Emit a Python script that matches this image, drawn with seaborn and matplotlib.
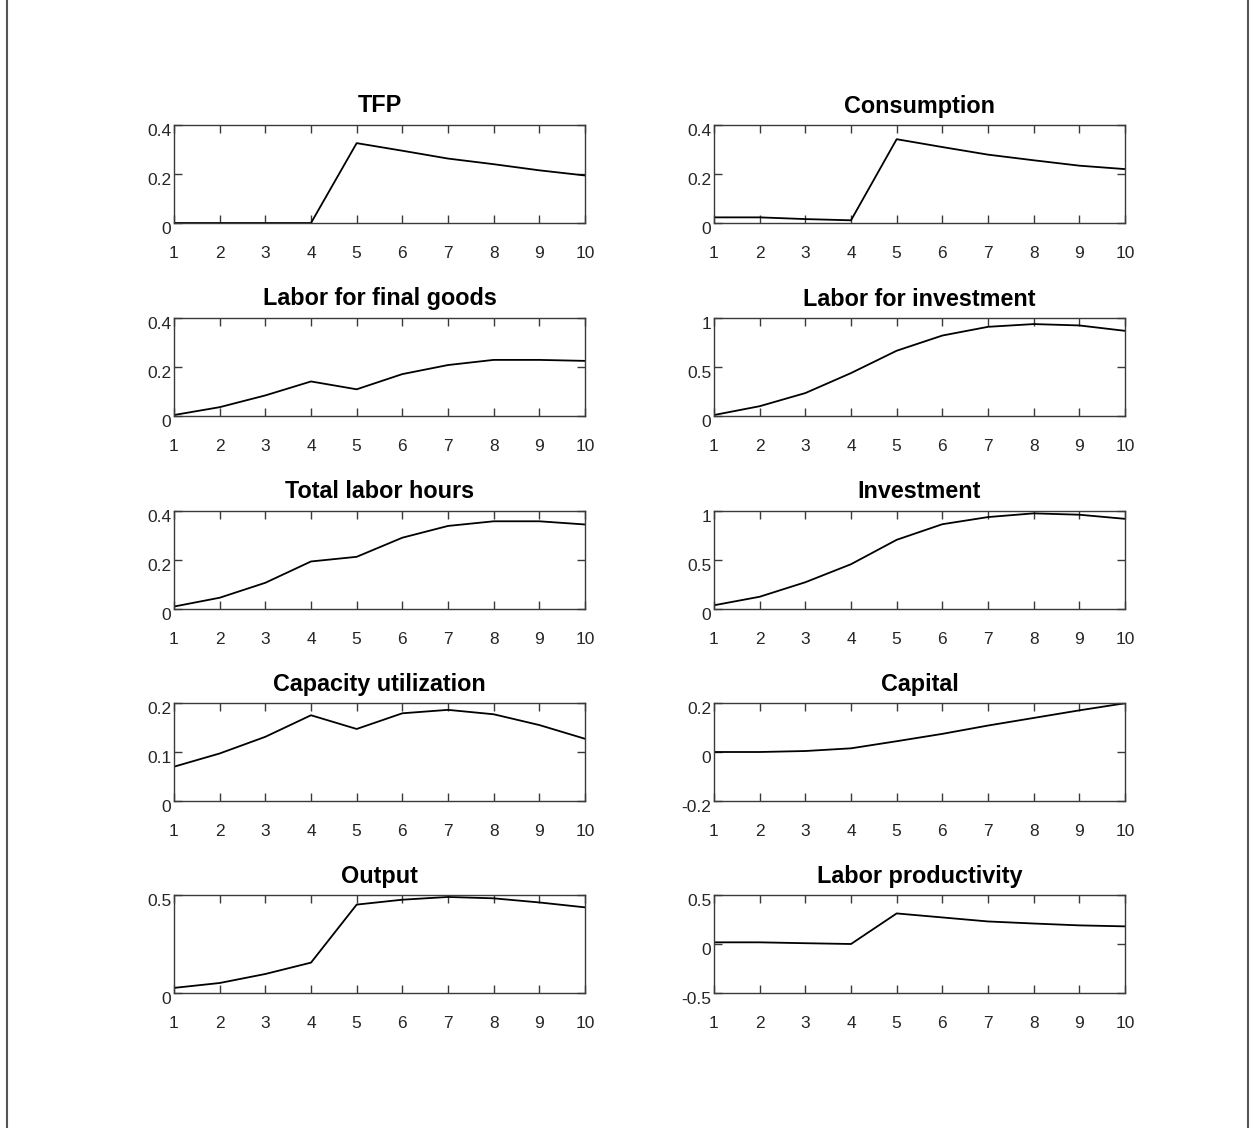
import numpy as np
import pandas as pd
import matplotlib
matplotlib.use("Agg")
import matplotlib.pyplot as plt
from matplotlib.lines import Line2D
from matplotlib.transforms import ScaledTranslation
import seaborn as sns

periods = [1, 2, 3, 4, 5, 6, 7, 8, 9, 10]

tfp = [0.0, 0.0, 0.0, 0.0, 0.326, 0.295, 0.263, 0.240, 0.215, 0.194]
consumption = [0.023, 0.023, 0.016, 0.011, 0.342, 0.310, 0.279, 0.256, 0.234, 0.220]
labor_final = [0.004, 0.036, 0.084, 0.141, 0.109, 0.171, 0.208, 0.229, 0.229, 0.225]
labor_invest = [0.010, 0.100, 0.234, 0.438, 0.666, 0.821, 0.910, 0.938, 0.924, 0.869]
total_hours = [0.010, 0.046, 0.107, 0.194, 0.213, 0.291, 0.339, 0.358, 0.358, 0.345]
investment = [0.038, 0.125, 0.273, 0.457, 0.706, 0.865, 0.938, 0.976, 0.962, 0.920]
capacity = [0.070, 0.097, 0.131, 0.175, 0.147, 0.179, 0.186, 0.177, 0.155, 0.127]
capital = [0.0, 0.0, 0.004, 0.015, 0.044, 0.074, 0.108, 0.139, 0.170, 0.199]
output = [0.026, 0.051, 0.097, 0.155, 0.451, 0.476, 0.490, 0.483, 0.462, 0.437]
productivity = [0.017, 0.017, 0.008, 0.0, 0.312, 0.271, 0.230, 0.209, 0.190, 0.180]

titles = ["TFP", "Consumption", "Labor for final goods", "Labor for investment",
          "Total labor hours", "Investment", "Capacity utilization", "Capital",
          "Output", "Labor productivity"]
series = [tfp, consumption, labor_final, labor_invest, total_hours, investment,
          capacity, capital, output, productivity]
ylims = [(0, 0.4), (0, 0.4), (0, 0.4), (0, 1), (0, 0.4), (0, 1), (0, 0.2),
         (-0.2, 0.2), (0, 0.5), (-0.5, 0.5)]
yticks = [[0, 0.2, 0.4], [0, 0.2, 0.4], [0, 0.2, 0.4], [0, 0.5, 1],
          [0, 0.2, 0.4], [0, 0.5, 1], [0, 0.1, 0.2], [-0.2, 0, 0.2],
          [0, 0.5], [-0.5, 0, 0.5]]
yticklabels = [["0", "0.2", "0.4"], ["0", "0.2", "0.4"], ["0", "0.2", "0.4"],
               ["0", "0.5", "1"], ["0", "0.2", "0.4"], ["0", "0.5", "1"],
               ["0", "0.1", "0.2"], ["-0.2", "0", "0.2"], ["0", "0.5"],
               ["-0.5", "0", "0.5"]]

sns.set_theme(style="white")
plt.rcParams["font.family"] = ["Liberation Sans", "DejaVu Sans"]
gray = "#262626"
plt.rcParams["axes.edgecolor"] = "#3a3a3a"
plt.rcParams["axes.linewidth"] = 1.0

W, H = 1250, 1128
fig = plt.figure(figsize=(W / 100, H / 100), dpi=100)
fig.patch.set_facecolor("white")

col_left = [174, 714]
ax_w = 411
row_top = [125, 318, 511, 703, 895]
ax_h = 98

for i, (title, vals) in enumerate(zip(titles, series)):
    r, c = divmod(i, 2)
    left = col_left[c] / W
    bottom = 1 - (row_top[r] + ax_h) / H
    ax = fig.add_axes([left, bottom, ax_w / W, ax_h / H])
    df = pd.DataFrame({"period": periods, "value": vals})
    sns.lineplot(data=df, x="period", y="value", ax=ax, color="black",
                 linewidth=1.3)
    ax.set_xlim(1, 10)
    ax.set_ylim(*ylims[i])
    ax.set_xticks(periods)
    ax.set_xticklabels([str(p) for p in periods])
    ax.set_yticks(yticks[i])
    ax.set_yticklabels(yticklabels[i])
    ax.set_xlabel("")
    ax.set_ylabel("")
    ax.tick_params(axis="both", which="major", direction="in", length=6,
                   width=1.0, color="#3a3a3a", labelsize=12.5, labelcolor=gray,
                   top=True, right=True, bottom=True, left=True)
    ax.tick_params(axis="x", pad=16.5)
    ax.tick_params(axis="y", pad=2)
    for lab in ax.get_yticklabels():
        lab.set_transform(lab.get_transform() +
                          ScaledTranslation(0, -5 / 100, fig.dpi_scale_trans))
    for s in ax.spines.values():
        s.set_visible(True)
        s.set_color("#3a3a3a")
    ax.set_title(title, fontsize=16.8, fontweight="bold", color="black", pad=9)

fig.add_artist(Line2D([6.5 / W, 6.5 / W], [0, 1], color="#555555", linewidth=1.5,
                      transform=fig.transFigure))
fig.add_artist(Line2D([1248 / W, 1248 / W], [0, 1], color="#555555", linewidth=1.5,
                      transform=fig.transFigure))

fig.savefig("out.png", dpi=100, facecolor="white")
